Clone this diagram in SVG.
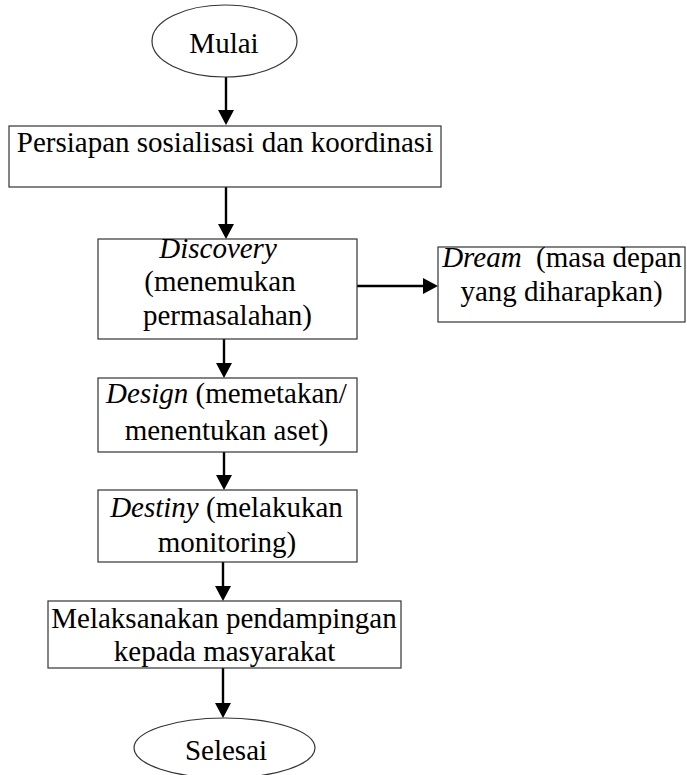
<svg xmlns="http://www.w3.org/2000/svg" width="687" height="775" viewBox="0 0 687 775">
<style>
.box{fill:#fff;stroke:#333;stroke-width:1.2}
.t{font-family:"Liberation Serif","Times New Roman",serif;font-size:29px;fill:#000;text-anchor:middle}
.i{font-style:italic}
.pre{white-space:pre}
.c{stroke:#000;stroke-width:2.4;fill:none;marker-end:url(#ah)}
</style>
<defs>
<marker id="ah" markerUnits="userSpaceOnUse" markerWidth="16" markerHeight="16" refX="11" refY="8" orient="auto">
<path d="M0,0 L15,8 L0,16 z" fill="#000"/>
</marker>
</defs>
<rect width="687" height="775" fill="#fff"/>
<g id="connectors">
<line class="c" x1="226" y1="77" x2="226" y2="121"/>
<line class="c" x1="226" y1="187" x2="226" y2="235"/>
<line class="c" x1="357" y1="286" x2="434" y2="286"/>
<line class="c" x1="224" y1="339" x2="224" y2="374"/>
<line class="c" x1="224" y1="452" x2="224" y2="486"/>
<line class="c" x1="223" y1="562" x2="223" y2="597"/>
<line class="c" x1="223" y1="668" x2="223" y2="714"/>
</g>
<g id="mulai">
<ellipse class="box" cx="224.5" cy="41" rx="72.5" ry="36"/>
<text class="t" x="224" y="53">Mulai</text>
</g>
<g id="persiapan">
<rect class="box" x="9" y="126" width="432" height="61"/>
<text class="t" x="225" y="152">Persiapan sosialisasi dan koordinasi</text>
</g>
<g id="discovery">
<rect class="box" x="98" y="239" width="259" height="100"/>
<text class="t i" x="218" y="258">Discovery</text>
<text class="t" x="220" y="291">(menemukan</text>
<text class="t" x="227.5" y="325">permasalahan)</text>
</g>
<g id="dream">
<rect class="box" x="438" y="247" width="247" height="75"/>
<text class="t pre" x="562" y="267" xml:space="preserve"><tspan class="i">Dream</tspan>  (masa depan</text>
<text class="t" x="561.5" y="301">yang diharapkan)</text>
</g>
<g id="design">
<rect class="box" x="98" y="378" width="259" height="74"/>
<text class="t" x="226.5" y="403"><tspan class="i">Design</tspan> (memetakan/</text>
<text class="t" x="226.5" y="440">menentukan aset)</text>
</g>
<g id="destiny">
<rect class="box" x="98" y="490" width="259" height="72"/>
<text class="t" x="226.5" y="517"><tspan class="i">Destiny</tspan> (melakukan</text>
<text class="t" x="227" y="552">monitoring)</text>
</g>
<g id="melaksanakan">
<rect class="box" x="48" y="601" width="353" height="67"/>
<text class="t" x="224" y="628">Melaksanakan pendampingan</text>
<text class="t" x="224.5" y="661">kepada masyarakat</text>
</g>
<g id="selesai">
<ellipse class="box" cx="224.5" cy="748" rx="90.5" ry="30"/>
<text class="t" x="226" y="760">Selesai</text>
</g>
</svg>
